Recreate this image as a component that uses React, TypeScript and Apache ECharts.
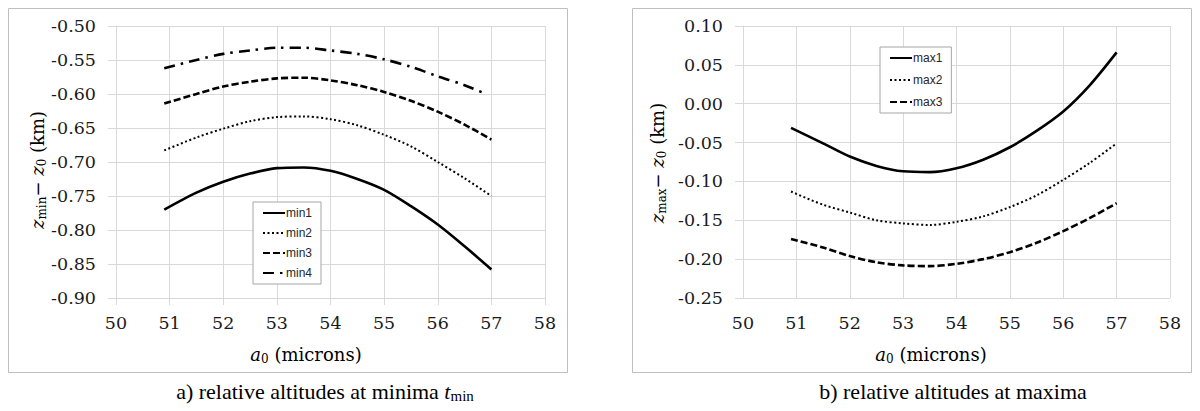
import React, { useEffect, useRef } from "react";
import * as echarts from "echarts";

const X_VALUES = [50.9, 51.5, 52, 52.5, 53, 53.5, 54, 54.5, 55, 55.5, 56, 56.5, 57];
const X_VALUES_MIN4 = [50.9, 51.5, 52, 52.5, 53, 53.5, 54, 54.5, 55, 55.5, 56, 56.5, 56.9];

const MIN1 = [-0.770, -0.745, -0.729, -0.717, -0.709, -0.708, -0.713, -0.725, -0.741, -0.765, -0.792, -0.824, -0.858];
const MIN2 = [-0.683, -0.664, -0.651, -0.640, -0.634, -0.633, -0.637, -0.646, -0.660, -0.677, -0.700, -0.724, -0.750];
const MIN3 = [-0.614, -0.600, -0.589, -0.582, -0.577, -0.576, -0.580, -0.587, -0.597, -0.610, -0.626, -0.645, -0.667];
const MIN4 = [-0.562, -0.550, -0.541, -0.536, -0.532, -0.532, -0.536, -0.541, -0.549, -0.560, -0.574, -0.587, -0.600];

const MAX1 = [-0.031, -0.051, -0.068, -0.080, -0.087, -0.088, -0.083, -0.072, -0.056, -0.035, -0.010, 0.024, 0.066];
const MAX2 = [-0.113, -0.130, -0.140, -0.150, -0.154, -0.156, -0.152, -0.145, -0.133, -0.118, -0.098, -0.076, -0.051];
const MAX3 = [-0.174, -0.185, -0.196, -0.204, -0.208, -0.209, -0.206, -0.200, -0.191, -0.179, -0.164, -0.147, -0.128];

const MIN_NAMES = ["min1", "min2", "min3", "min4"];
const MAX_NAMES = ["max1", "max2", "max3"];

const MATH = "DejaVu Serif";
const TIMES = "Liberation Serif";
const SANS = "Liberation Sans";
const GRID_COLOR = "#d9d9d9";

const pairs = (xs: number[], ys: number[]) => xs.map((x, i) => [x, ys[i]]);

const LINE_STYLES: Record<string, any> = {
  solid: { width: 2.6, type: "solid" },
  dotted: { width: 2, type: [2, 2.5] },
  dashed: { width: 2.6, type: [7, 3] },
  dashdot: { width: 2.6, type: [11, 6, 2.5, 6] },
};

function richTitle(size: number, fam: string, subPad: number) {
  const sub = Math.round(size * 0.66);
  return {
    i: { fontFamily: fam, fontSize: size, fontStyle: "italic", color: "#000", lineHeight: size + 4 },
    n: { fontFamily: fam, fontSize: size, color: "#000", lineHeight: size + 4 },
    s: { fontFamily: fam, fontSize: sub, color: "#000", lineHeight: sub + 2, padding: [subPad, 0, 0, 0] },
  };
}

function xAxisCfg(gridIndex: number) {
  return {
    type: "value",
    gridIndex,
    min: 50,
    max: 58,
    interval: 1,
    axisLine: { show: true, lineStyle: { color: GRID_COLOR, width: 1 } },
    axisTick: { show: true, length: 7, lineStyle: { color: GRID_COLOR } },
    splitLine: { show: true, lineStyle: { color: GRID_COLOR, width: 1 } },
    axisLabel: { fontFamily: MATH, fontSize: 17.5, color: "#1a1a1a", margin: 16 },
  };
}

function yAxisCfg(gridIndex: number, min: number, max: number) {
  return {
    type: "value",
    gridIndex,
    min,
    max,
    interval: 0.05,
    axisLine: { show: true, lineStyle: { color: GRID_COLOR, width: 1 } },
    axisTick: { show: true, length: 8, lineStyle: { color: GRID_COLOR } },
    splitLine: { show: true, lineStyle: { color: GRID_COLOR, width: 1 } },
    axisLabel: {
      fontFamily: MATH,
      fontSize: 17.5,
      color: "#1a1a1a",
      margin: 20,
      formatter: (v: number) => (Math.abs(v) < 1e-9 ? "0.00" : v.toFixed(2)),
    },
  };
}

function lineSeries(name: string, data: number[][], style: any, idx: number) {
  return {
    type: "line",
    name,
    xAxisIndex: idx,
    yAxisIndex: idx,
    data,
    smooth: 0.3,
    symbol: "none",
    lineStyle: { color: "#000", ...style },
    itemStyle: { color: "#000" },
  };
}

function legendCfg(data: string[], left: number, top: number, gap: number) {
  return {
    data,
    left,
    top,
    orient: "vertical",
    backgroundColor: "#fff",
    borderColor: "#a6a6a6",
    borderWidth: 1,
    padding: [5, 9, 5, 9],
    itemGap: gap,
    itemWidth: 22,
    itemHeight: 14,
    itemStyle: { color: "rgba(0,0,0,0)", borderColor: "rgba(0,0,0,0)", borderWidth: 0 },
    textStyle: { fontFamily: SANS, fontSize: 12, color: "#262626", padding: [0, 0, 0, -4] },
  };
}

export default function App() {
  const ref = useRef<HTMLDivElement>(null);
  useEffect(() => {
    if (!ref.current) return;
    const chart = echarts.init(ref.current, null, { renderer: "svg" });
    const option: any = {
      animation: false,
      backgroundColor: "#fff",
      grid: [
        { left: 116, right: 655, top: 26, bottom: 113 },
        { left: 743, right: 30, top: 26, bottom: 113 },
      ],
      xAxis: [xAxisCfg(0), xAxisCfg(1)],
      yAxis: [yAxisCfg(0, -0.9, -0.5), yAxisCfg(1, -0.25, 0.1)],
      legend: [legendCfg(MIN_NAMES, 253, 202, 8), legendCfg(MAX_NAMES, 880, 47, 10)],
      series: [
        lineSeries(MIN_NAMES[0], pairs(X_VALUES, MIN1), LINE_STYLES.solid, 0),
        lineSeries(MIN_NAMES[1], pairs(X_VALUES, MIN2), LINE_STYLES.dotted, 0),
        lineSeries(MIN_NAMES[2], pairs(X_VALUES, MIN3), LINE_STYLES.dashed, 0),
        lineSeries(MIN_NAMES[3], pairs(X_VALUES_MIN4, MIN4), LINE_STYLES.dashdot, 0),
        lineSeries(MAX_NAMES[0], pairs(X_VALUES, MAX1), LINE_STYLES.solid, 1),
        lineSeries(MAX_NAMES[1], pairs(X_VALUES, MAX2), LINE_STYLES.dotted, 1),
        lineSeries(MAX_NAMES[2], pairs(X_VALUES, MAX3), LINE_STYLES.dashed, 1),
      ],
      graphic: [
        { type: "rect", shape: { x: 8.5, y: 8.5, width: 559, height: 364 }, style: { fill: "none", stroke: "#bfbfbf", lineWidth: 1 }, z: -1 },
        { type: "rect", shape: { x: 632.5, y: 8.5, width: 559, height: 364 }, style: { fill: "none", stroke: "#bfbfbf", lineWidth: 1 }, z: -1 },
        {
          type: "text", x: 37, y: 170, rotation: Math.PI / 2,
          style: { text: "{i|z}{s|min}{n|− }{i|z}{s|0}{n| (km)}", rich: richTitle(18, MATH, 9), align: "center", verticalAlign: "middle" },
        },
        {
          type: "text", x: 657, y: 163, rotation: Math.PI / 2,
          style: { text: "{i|z}{s|max}{n|− }{i|z}{s|0}{n| (km)}", rich: richTitle(18, MATH, 9), align: "center", verticalAlign: "middle" },
        },
        {
          type: "text", x: 306, y: 354,
          style: { text: "{i|a}{s|0}{n| (microns)}", rich: richTitle(18, MATH, 9), align: "center", verticalAlign: "middle" },
        },
        {
          type: "text", x: 931, y: 354,
          style: { text: "{i|a}{s|0}{n| (microns)}", rich: richTitle(18, MATH, 9), align: "center", verticalAlign: "middle" },
        },
        {
          type: "text", x: 325, y: 391,
          style: { text: "{n|a) relative altitudes at minima }{i|t}{s|min}", rich: richTitle(22, TIMES, 10), align: "center", verticalAlign: "middle" },
        },
        {
          type: "text", x: 953, y: 391,
          style: { text: "{n|b) relative altitudes at maxima}", rich: richTitle(22, TIMES, 10), align: "center", verticalAlign: "middle" },
        },
      ],
    };
    chart.setOption(option);
    return () => chart.dispose();
  }, []);
  return (
    <div
      ref={ref}
      style={{ position: "fixed", left: 0, top: 0, width: 1200, height: 411, background: "#fff" }}
    />
  );
}
